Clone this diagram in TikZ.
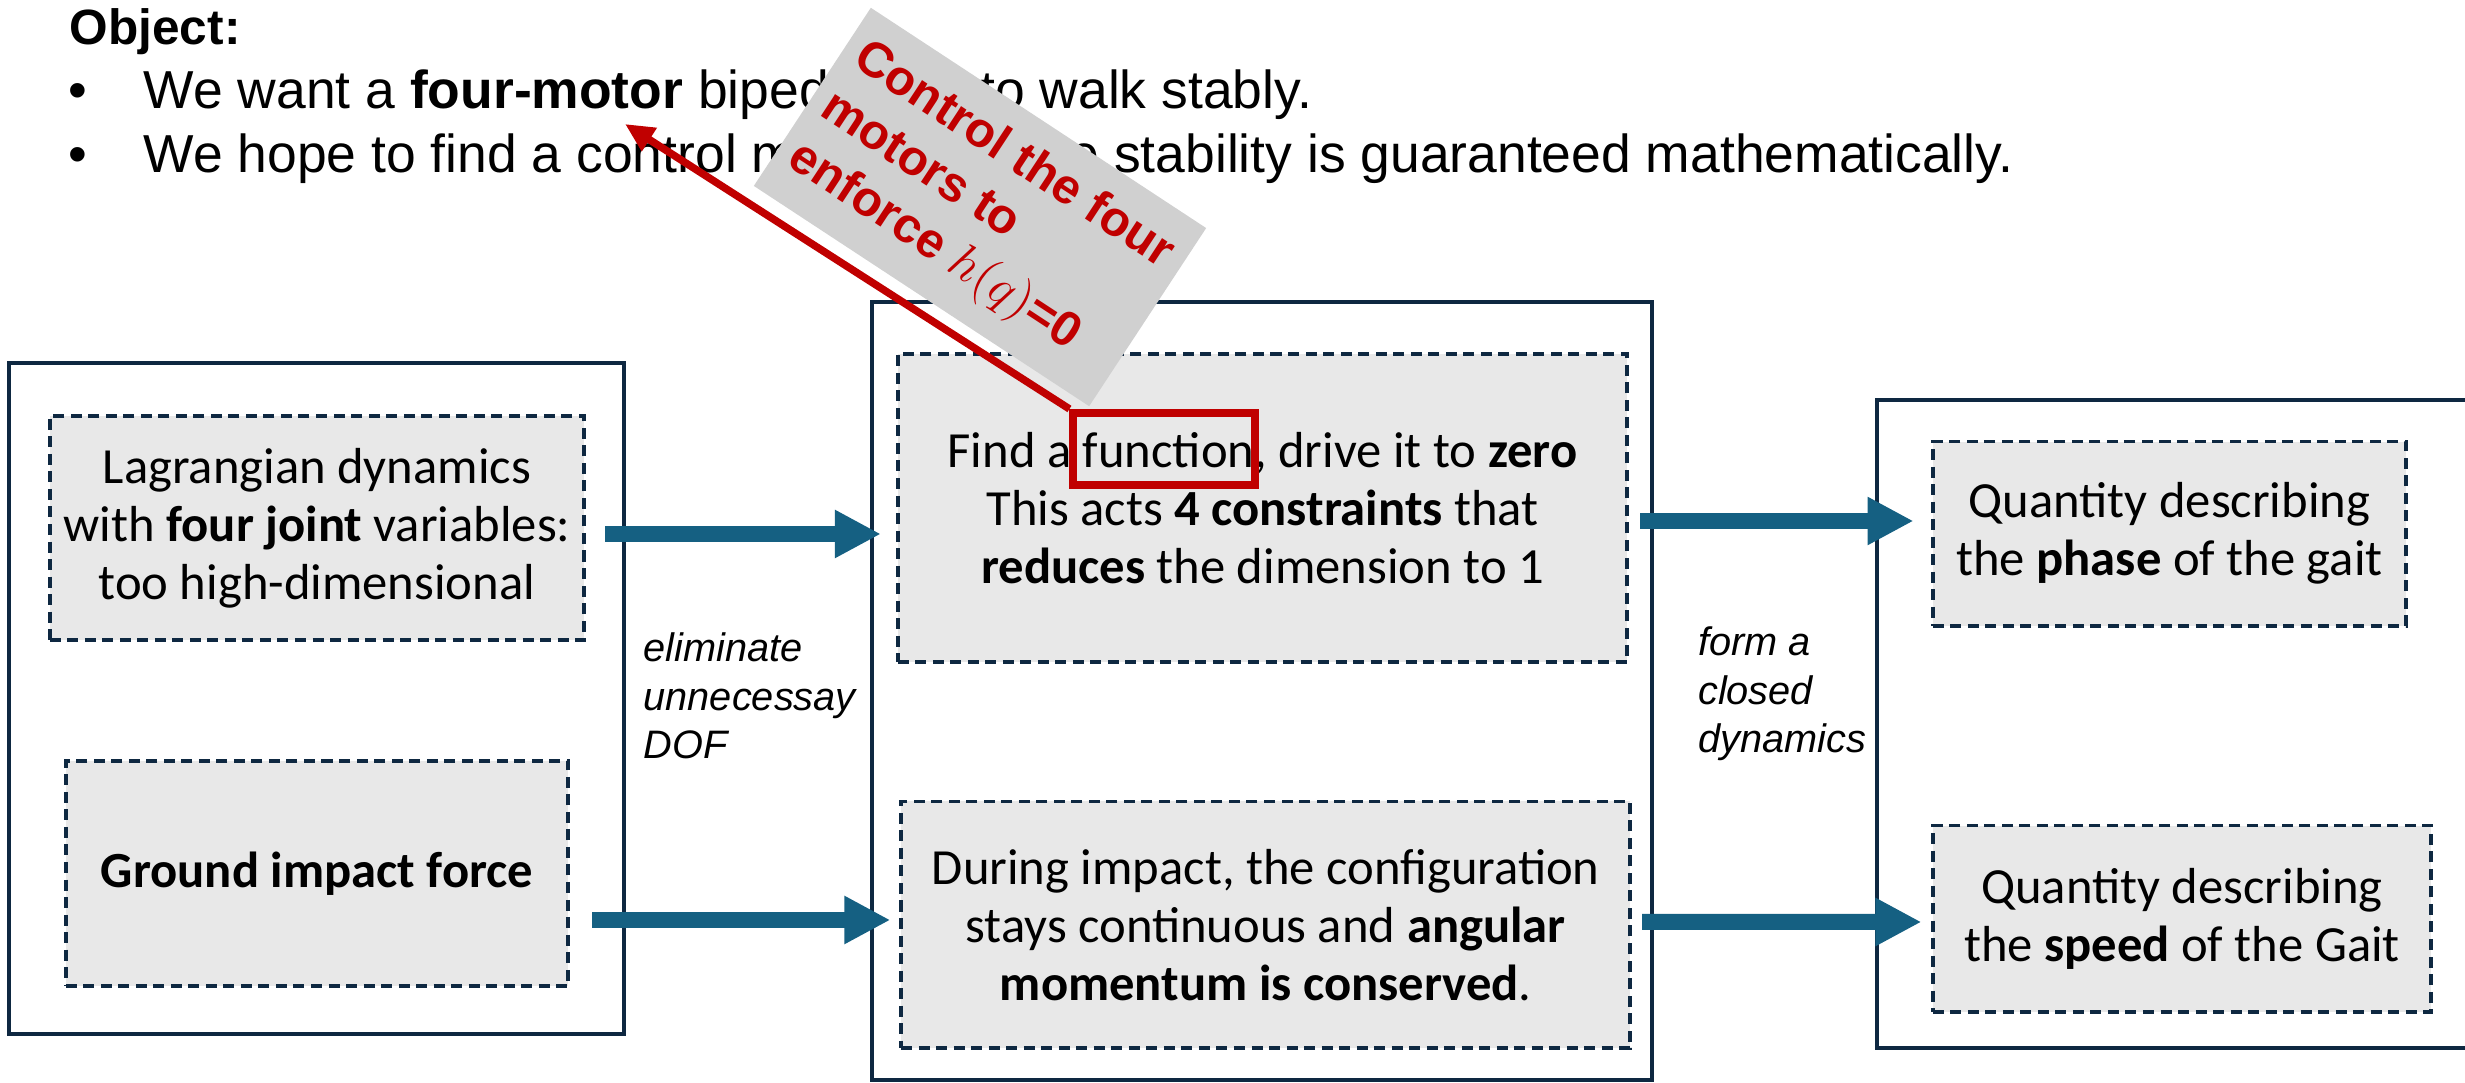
\documentclass[tikz,border=0pt]{standalone}
\usepackage{fontspec}
\setmainfont{Liberation Sans}
\newfontfamily\boxfont{Carlito}
\usetikzlibrary{arrows.meta,calc}
\definecolor{navy}{HTML}{0E2841}
\definecolor{arrowblue}{HTML}{156082}
\definecolor{boxgray}{HTML}{E8E8E8}
\definecolor{callgray}{HTML}{D0D0D0}
\definecolor{darkred}{HTML}{C00000}
\begin{document}
\begin{tikzpicture}[x=0.01cm,y=-0.01cm,
  obox/.style={draw=navy, line width=0.042cm, inner sep=0pt},
  dbox/.style={draw=navy, fill=boxgray, line width=0.038cm, dash pattern=on 0.11cm off 0.065cm,
    inner sep=0pt, align=center, font=\boxfont\fontsize{14.4}{16.5}\selectfont},
  bigarrow/.style={draw=arrowblue, line width=0.16cm, -{Triangle[width=0.45cm,length=0.46cm]}},
  redarrow/.style={draw=darkred, line width=0.075cm, -{Triangle[width=0.26cm,length=0.29cm]}},
  lbl/.style={inner sep=0pt, align=left, font=\itshape\fontsize{11.3}{13.8}\selectfont},
  toptext/.style={inner sep=0pt, anchor=base west, font=\fontsize{15.2}{18}\selectfont},
  callout/.style={fill=callgray, inner sep=0pt, align=left, text=darkred,
    font=\bfseries\fontsize{14}{17}\selectfont},
  hilite/.style={draw=darkred, line width=0.08cm, inner sep=0pt}
]
\useasboundingbox (0,0) rectangle (2465,1083);
\clip (0,0) rectangle (2465,1083);

% outer boxes
\node[obox, minimum width=6.145cm, minimum height=6.71cm] (lbox) at (316.75,698.5) {};
\node[obox, minimum width=7.80cm, minimum height=7.78cm] (mbox) at (1262,691) {};
\node[obox, minimum width=6.03cm, minimum height=6.48cm] (rbox) at (2178.5,724) {};

% inner dashed boxes
\node[dbox, minimum width=5.34cm, minimum height=2.24cm] (lag) at (317,528)
  {Lagrangian dynamics\\with \textbf{four joint} variables:\\too high-dimensional};
\node[dbox, minimum width=5.02cm, minimum height=2.25cm] (ground) at (317,873.5)
  {\textbf{Ground impact force}};
\node[dbox, minimum width=7.29cm, minimum height=3.08cm] (find) at (1262.5,508)
  {Find a function, drive it to \textbf{zero}\\This acts \textbf{4 constraints} that\\\textbf{reduces} the dimension to 1};
\node[dbox, minimum width=7.285cm, minimum height=2.465cm] (during) at (1265.75,924.75)
  {During impact, the configuration\\stays continuous and \textbf{angular}\\\textbf{momentum is conserved}.};
\node[dbox, minimum width=4.73cm, minimum height=1.84cm] (phase) at (2169.5,533.6)
  {Quantity describing\\the \textbf{phase} of the gait};
\node[dbox, minimum width=4.98cm, minimum height=1.864cm] (speed) at (2182,918.8)
  {Quantity describing\\the \textbf{speed} of the Gait};

% thick arrows
\draw[bigarrow] ($(lag.east)+(19,6)$) -- ($(find.west)+(-15,26)$);
\draw[bigarrow] ($(ground.east)+(22,46.5)$) -- ($(during.west)+(-9,-4.75)$);
\draw[bigarrow] ($(find.east)+(11,13)$) -- ($(phase.west)+(-17.4,-12.6)$);
\draw[bigarrow] ($(during.east)+(10,-2.75)$) -- ($(speed.west)+(-9.5,3.2)$);

% arrow labels
\node[lbl, anchor=north west] (elim) at (643,632) {eliminate\\unnecessay\\DOF};
\node[lbl, anchor=north west] (form) at (1697.5,626) {form a\\closed\\dynamics};

% top text
\node[toptext, font=\bfseries\fontsize{14.1}{17}\selectfont] (obj) at (69,45) {Object:};
\node[toptext] (b1) at (68,109) {•};
\node[toptext] (l1) at (143,109) {We want a \textbf{four-motor} biped robot to walk stably.};
\node[toptext] (b2) at (68,173) {•};
\node[toptext] (l2) at (143,173) {We hope to find a control method whose stability is guaranteed mathematically.};

% red highlight and pointer
\node[hilite, minimum width=1.81cm, minimum height=0.72cm] (fr) at (1164,449) {};
\coordinate (tip) at (625,124);
\draw[redarrow] (fr.north west) -- (tip);

% rotated callout
\node[callout, rotate=-33.3, minimum width=4.01cm, minimum height=2.13cm] (call) at (980,207)
  {Control the four\\motors to\\enforce $h(q)$=0};
\end{tikzpicture}
\end{document}
